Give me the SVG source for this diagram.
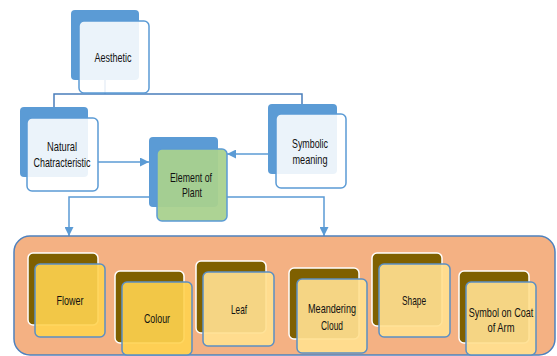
<svg xmlns="http://www.w3.org/2000/svg" width="557" height="356" viewBox="0 0 557 356">
<defs>
<style>
.bk{fill:#5B9BD5;}
.fr{fill:#FFFFFF;fill-opacity:0.88;stroke:#5B9BD5;stroke-width:1.5;}
.gr{fill:#A9D18E;fill-opacity:0.95;stroke:#5B9BD5;stroke-width:1.5;}
.yb{fill:#7F6000;stroke:#FFFFFF;stroke-width:1.5;}
.y1{fill:#FFD34F;fill-opacity:0.9;stroke:#5B8FC4;stroke-width:1.5;}
.y2{fill:#FFE08F;fill-opacity:0.92;stroke:#5B8FC4;stroke-width:1.5;}
.t{font-family:"Liberation Sans",Arial,sans-serif;font-size:13px;fill:#111;text-anchor:middle;}
.c{fill:none;stroke:#5B9BD5;stroke-width:1.5;}
.tr{fill:none;stroke:#4A7EBB;stroke-width:1.5;}
</style>
<marker id="ah" viewBox="0 0 10 10" refX="10" refY="5" markerWidth="6" markerHeight="6" orient="auto" markerUnits="strokeWidth">
<path d="M0,0 L10,5 L0,10 Z" fill="#5B9BD5"/>
</marker>
</defs>
<rect width="557" height="356" fill="#FFFFFF"/>
<g id="connectors">
<path class="tr" d="M105,80 V94 M54,108 V94 H302 V104"/>
<path class="c" d="M98,162 H149" marker-end="url(#ah)"/>
<path class="c" d="M268,154 H227" marker-end="url(#ah)"/>
<path class="c" d="M157,197 H69 V236" marker-end="url(#ah)"/>
<path class="c" d="M227,197 H324 V236" marker-end="url(#ah)"/>
</g>
<g id="aesthetic">
<rect class="bk" x="71" y="10" width="68" height="70" rx="4"/>
<rect class="fr" x="79" y="21" width="70" height="72" rx="5"/>
<text class="t" x="113" y="62" textLength="37" lengthAdjust="spacingAndGlyphs">Aesthetic</text>
</g>
<g id="natural">
<rect class="bk" x="20" y="107" width="68" height="70" rx="4"/>
<rect class="fr" x="27" y="118" width="71" height="73" rx="5"/>
<text class="t" x="62" y="151" textLength="30" lengthAdjust="spacingAndGlyphs">Natural</text>
<text class="t" x="62" y="167" textLength="57" lengthAdjust="spacingAndGlyphs">Chatracteristic</text>
</g>
<g id="symbolic">
<rect class="bk" x="268" y="104" width="69" height="70" rx="4"/>
<rect class="fr" x="276" y="114" width="70" height="74" rx="5"/>
<text class="t" x="310" y="148" textLength="36" lengthAdjust="spacingAndGlyphs">Symbolic</text>
<text class="t" x="310" y="164" textLength="35" lengthAdjust="spacingAndGlyphs">meaning</text>
</g>
<g id="element">
<rect class="bk" x="149" y="137" width="69" height="70" rx="4"/>
<rect class="gr" x="157" y="149" width="70" height="72" rx="5"/>
<text class="t" x="191" y="182" textLength="42" lengthAdjust="spacingAndGlyphs">Element of</text>
<text class="t" x="192" y="197" textLength="20" lengthAdjust="spacingAndGlyphs">Plant</text>
</g>
<g id="container">
<rect x="14" y="236" width="541" height="119" rx="16" fill="#F4B183" stroke="#4F81BD" stroke-width="1.5"/>
</g>
<g id="flower">
<rect class="yb" x="28" y="253" width="70" height="72" rx="5"/>
<rect class="y1" x="35" y="264" width="70" height="73" rx="5"/>
<text class="t" x="70" y="305" textLength="27" lengthAdjust="spacingAndGlyphs">Flower</text>
</g>
<g id="colour">
<rect class="yb" x="115" y="271" width="69" height="72" rx="5"/>
<rect class="y1" x="122" y="282" width="70" height="73" rx="5"/>
<text class="t" x="157" y="323" textLength="26" lengthAdjust="spacingAndGlyphs">Colour</text>
</g>
<g id="leaf">
<rect class="yb" x="196" y="261" width="70" height="72" rx="5"/>
<rect class="y2" x="203" y="272" width="71" height="74" rx="5"/>
<text class="t" x="239" y="314" textLength="16" lengthAdjust="spacingAndGlyphs">Leaf</text>
</g>
<g id="meandering">
<rect class="yb" x="289" y="268" width="70" height="71" rx="5"/>
<rect class="y2" x="297" y="279" width="70" height="74" rx="5"/>
<text class="t" x="332" y="313" textLength="48" lengthAdjust="spacingAndGlyphs">Meandering</text>
<text class="t" x="332" y="330" textLength="22" lengthAdjust="spacingAndGlyphs">Cloud</text>
</g>
<g id="shape">
<rect class="yb" x="372" y="253" width="70" height="73" rx="5"/>
<rect class="y2" x="379" y="264" width="71" height="73" rx="5"/>
<text class="t" x="414" y="305" textLength="24" lengthAdjust="spacingAndGlyphs">Shape</text>
</g>
<g id="symbol">
<rect class="yb" x="459" y="271" width="70" height="72" rx="5"/>
<rect class="y2" x="466" y="282" width="70" height="73" rx="5"/>
<text class="t" transform="translate(501,317) scale(0.7,1)" x="0" y="0">Symbol on Coat</text>
<text class="t" x="501" y="332" textLength="27" lengthAdjust="spacingAndGlyphs">of Arm</text>
</g>
</svg>
